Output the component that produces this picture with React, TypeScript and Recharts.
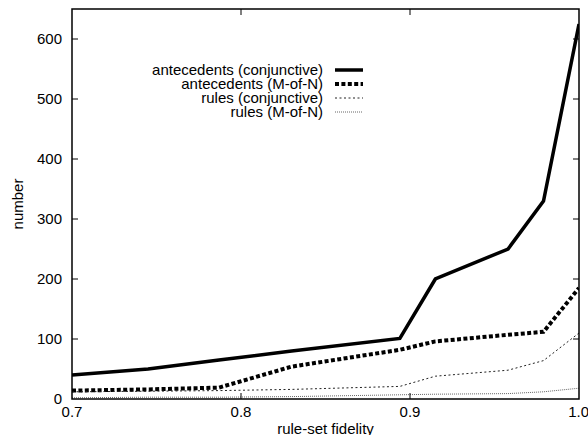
import { LineChart, Line, XAxis, YAxis } from 'recharts'

// values
const fidelity = [0.7, 0.745, 0.787, 0.83, 0.894, 0.915, 0.958, 0.979, 1.0]
const antecedentsConjunctive = [40, 50, 65, 80, 101, 200, 250, 330, 625]
const antecedentsMofN = [14, 16, 19, 54, 82, 96, 107, 112, 185]
const rulesConjunctive = [12, 13, 14, 16, 21, 38, 48, 64, 110]
const rulesMofN = [2, 3, 3, 4, 7, 8, 9, 12, 18]

const xTicks = [0.7, 0.8, 0.9, 1.0]
const yTicks = [0, 100, 200, 300, 400, 500, 600]

const X_MIN = 0.7
const X_MAX = 1.0
const Y_MAX = 650

// chart box
const W = 588
const H = 435
const M = { top: 9, right: 9, left: 0, bottom: 0 }
const Y_AXIS_W = 72
const X_AXIS_H = 36
const TICK = 6

const data = fidelity.map((f, i) => ({
    fidelity: f,
    ac: antecedentsConjunctive[i],
    am: antecedentsMofN[i],
    rc: rulesConjunctive[i],
    rm: rulesMofN[i]
}))

const series = [
    { key: 'ac', name: 'antecedents (conjunctive)', color: '#000', width: 3.5, dash: undefined },
    { key: 'am', name: 'antecedents (M-of-N)', color: '#000', width: 4, dash: '4 2.4' },
    { key: 'rc', name: 'rules (conjunctive)', color: '#222', width: 1, dash: '2 2.5' },
    { key: 'rm', name: 'rules (M-of-N)', color: '#666', width: 1, dash: '1 1' }
]

const FONT = '"Liberation Sans", Arial, sans-serif'
const tickFont = { fontSize: 15, fill: '#000', fontFamily: FONT }

// gnuplot style box with inward ticks on all four sides
function Frame() {
    const left = M.left + Y_AXIS_W
    const right = W - M.right
    const top = M.top
    const bottom = H - M.bottom - X_AXIS_H
    const px = (v: number) => left + ((v - X_MIN) / (X_MAX - X_MIN)) * (right - left)
    const py = (v: number) => bottom - (v / Y_MAX) * (bottom - top)
    return (
        <svg width={W} height={H} style={{ position: 'absolute', left: 0, top: 0, pointerEvents: 'none' }}>
            <g stroke="#000" strokeWidth={1}>
                {xTicks.slice(1, -1).map((t) => (
                    <g key={'x' + t}>
                        <line x1={px(t)} x2={px(t)} y1={bottom} y2={bottom - TICK} />
                        <line x1={px(t)} x2={px(t)} y1={top} y2={top + TICK} />
                    </g>
                ))}
                {yTicks.slice(1).map((t) => (
                    <g key={'y' + t}>
                        <line x1={left} x2={left + TICK} y1={py(t)} y2={py(t)} />
                        <line x1={right} x2={right - TICK} y1={py(t)} y2={py(t)} />
                    </g>
                ))}
            </g>
            <rect x={left} y={top} width={right - left} height={bottom - top} fill="none" stroke="#000" strokeWidth={1.5} />
        </svg>
    )
}

function Legendish() {
    return (
        <div style={{ position: 'absolute', left: 100, top: 63, fontFamily: FONT, fontSize: 15, color: '#000' }}>
            {series.map((s) => (
                <div key={s.key} style={{ display: 'flex', alignItems: 'center', height: 14 }}>
                    <div style={{ width: 223, textAlign: 'right', lineHeight: '14px', whiteSpace: 'nowrap' }}>{s.name}</div>
                    <svg width={40} height={14} style={{ marginLeft: 12 }}>
                        <line x1={0} x2={28} y1={7} y2={7} stroke={s.color} strokeWidth={s.width} strokeDasharray={s.dash} />
                    </svg>
                </div>
            ))}
        </div>
    )
}

function YTitle({ viewBox }: any) {
    const cy = viewBox.y + viewBox.height / 2
    return (
        <text x={18} y={cy} transform={`rotate(-90, 18, ${cy})`} textAnchor="middle" dy="0.355em" fontSize={15} fill="#000" fontFamily={FONT}>
            number
        </text>
    )
}

export default function App() {
    return (
        <div style={{ position: 'absolute', left: 0, top: 0, width: W, height: H, background: '#fff', overflow: 'hidden' }}>
            <LineChart width={W} height={H} data={data} margin={M} style={{ fontFamily: FONT }}>
                <XAxis
                    dataKey="fidelity"
                    type="number"
                    domain={[X_MIN, X_MAX]}
                    ticks={xTicks}
                    allowDataOverflow
                    height={X_AXIS_H}
                    tickSize={0}
                    tickMargin={7}
                    tickLine={false}
                    axisLine={false}
                    tick={tickFont}
                    tickFormatter={(v: number) => v.toFixed(1)}
                    label={{ value: 'rule-set fidelity', position: 'insideBottom', offset: 1, fontSize: 15, fill: '#000' }}
                />
                <YAxis
                    type="number"
                    domain={[0, Y_MAX]}
                    ticks={yTicks}
                    allowDataOverflow
                    width={Y_AXIS_W}
                    tickSize={0}
                    tickMargin={10}
                    tickLine={false}
                    axisLine={false}
                    tick={tickFont}
                    label={<YTitle />}
                />
                {series.map((s) => (
                    <Line
                        key={s.key}
                        dataKey={s.key}
                        name={s.name}
                        type="linear"
                        stroke={s.color}
                        strokeWidth={s.width}
                        strokeDasharray={s.dash}
                        dot={false}
                        isAnimationActive={false}
                    />
                ))}
            </LineChart>
            <Frame />
            <Legendish />
        </div>
    )
}
